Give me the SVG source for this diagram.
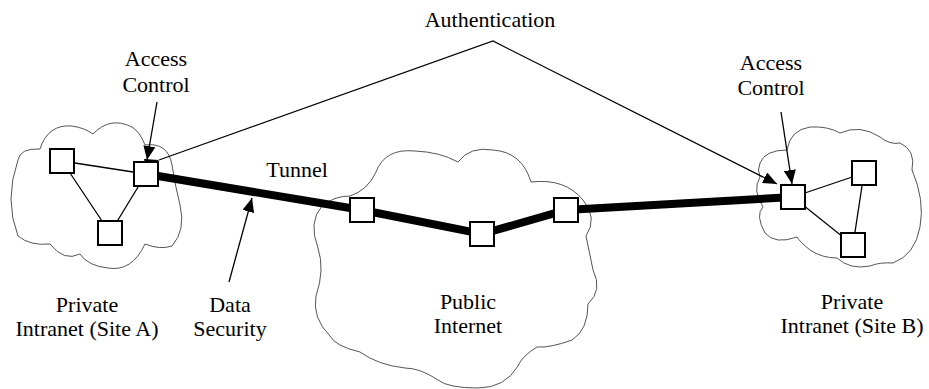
<svg xmlns="http://www.w3.org/2000/svg" width="929" height="389" viewBox="0 0 929 389">
<style>
.cloud{fill:none;stroke:#555;stroke-width:1}
.node rect{fill:#fff;stroke:#000;stroke-width:2}
.thin{fill:none;stroke:#000;stroke-width:1.3}
.tunnel{fill:none;stroke:#000;stroke-width:8;stroke-linejoin:miter}
.lbl{font-family:'Liberation Serif','Times New Roman',serif;font-size:22px;fill:#000;text-anchor:middle}
</style>
<defs>
<marker id="ah" viewBox="0 0 14 12" refX="14" refY="6" markerWidth="14" markerHeight="12" markerUnits="userSpaceOnUse" orient="auto">
<path d="M0,0 L14,6 L0,12 Z" fill="#000"/>
</marker>
</defs>
<rect width="929" height="389" fill="#fff"/>
<g id="clouds">
<path id="cloud-a" class="cloud" d="M18,236 Q4,200 18,160 Q20,148 40,149 Q48,124 72,126 Q85,128 93,134 Q110,116 132,127 Q140,132 145,145 Q168,142 172,165 Q175,185 180,205 Q186,230 172,246 Q160,250 145,244 Q132,272 108,268 Q88,266 80,254 Q64,262 50,244 Q30,246 18,236 Z"/>
<path id="cloud-internet" class="cloud" d="M322,206 Q334,196 350,196 Q368,190 376,172 Q385,148 415,151 Q440,152 458,162 Q470,146 493,150 Q522,152 531,182 Q565,178 583,200 Q598,218 586,236 Q590,255 593,270 Q603,290 588,304 Q588,330 572,340 Q550,348 537,347 Q522,356 518,366 Q505,388 478,388 Q448,388 438,380 Q420,368 405,368 Q378,365 360,352 Q335,346 330,336 Q312,318 316,296 Q325,270 318,248 Q308,222 322,206 Z"/>
<path id="cloud-b" class="cloud" d="M760,163 Q765,150 787,150 Q790,130 810,127 Q828,126 840,133 Q860,124 880,137 Q890,145 900,143 Q916,150 912,170 Q925,200 920,227 Q915,255 893,263 Q880,262 870,266 Q850,270 837,258 Q822,258 810,250 Q800,242 797,237 Q775,245 765,233 Q755,215 763,207 Q752,190 760,177 Q757,170 760,163 Z"/>
</g>
<g id="connectors">
<polyline class="tunnel" points="146,174 362,210 482,234 566,210 793,197"/>
<line class="thin" x1="62" y1="161" x2="146" y2="174"/>
<line class="thin" x1="62" y1="161" x2="110" y2="233"/>
<line class="thin" x1="146" y1="174" x2="110" y2="233"/>
<line class="thin" x1="793" y1="197" x2="864" y2="173"/>
<line class="thin" x1="793" y1="197" x2="853" y2="245"/>
<line class="thin" x1="864" y1="173" x2="853" y2="245"/>
<polyline class="thin" points="159,160 493,41 777,184" marker-start="url(#ah)" marker-end="url(#ah)" style="stroke-width:1.2"/>
<line class="thin" x1="157" y1="102" x2="147" y2="160" marker-end="url(#ah)"/>
<line class="thin" x1="781" y1="112" x2="792" y2="184" marker-end="url(#ah)"/>
<line class="thin" x1="229" y1="282" x2="252" y2="198" marker-end="url(#ah)"/>
</g>
<g id="node-a1" class="node"><rect x="50" y="149" width="24" height="24"/></g>
<g id="node-a-gw" class="node"><rect x="134" y="162" width="24" height="24"/></g>
<g id="node-a3" class="node"><rect x="98" y="221" width="24" height="24"/></g>
<g id="node-i1" class="node"><rect x="350" y="198" width="24" height="24"/></g>
<g id="node-i2" class="node"><rect x="470" y="222" width="24" height="24"/></g>
<g id="node-i3" class="node"><rect x="554" y="198" width="24" height="24"/></g>
<g id="node-b-gw" class="node"><rect x="781" y="185" width="24" height="24"/></g>
<g id="node-b2" class="node"><rect x="852" y="161" width="24" height="24"/></g>
<g id="node-b3" class="node"><rect x="841" y="233" width="24" height="24"/></g>
<g id="labels" class="lbl">
<text class="lbl" x="490" y="27">Authentication</text>
<text class="lbl" x="156" y="66">Access</text>
<text class="lbl" x="156" y="92">Control</text>
<text class="lbl" x="771" y="70">Access</text>
<text class="lbl" x="771" y="95">Control</text>
<text class="lbl" x="297" y="177">Tunnel</text>
<text class="lbl" x="87" y="312">Private</text>
<text class="lbl" x="87" y="336">Intranet (Site A)</text>
<text class="lbl" x="230" y="312">Data</text>
<text class="lbl" x="230" y="336">Security</text>
<text class="lbl" x="468" y="309">Public</text>
<text class="lbl" x="468" y="333">Internet</text>
<text class="lbl" x="852" y="309">Private</text>
<text class="lbl" x="852" y="333">Intranet (Site B)</text>
</g>
</svg>
